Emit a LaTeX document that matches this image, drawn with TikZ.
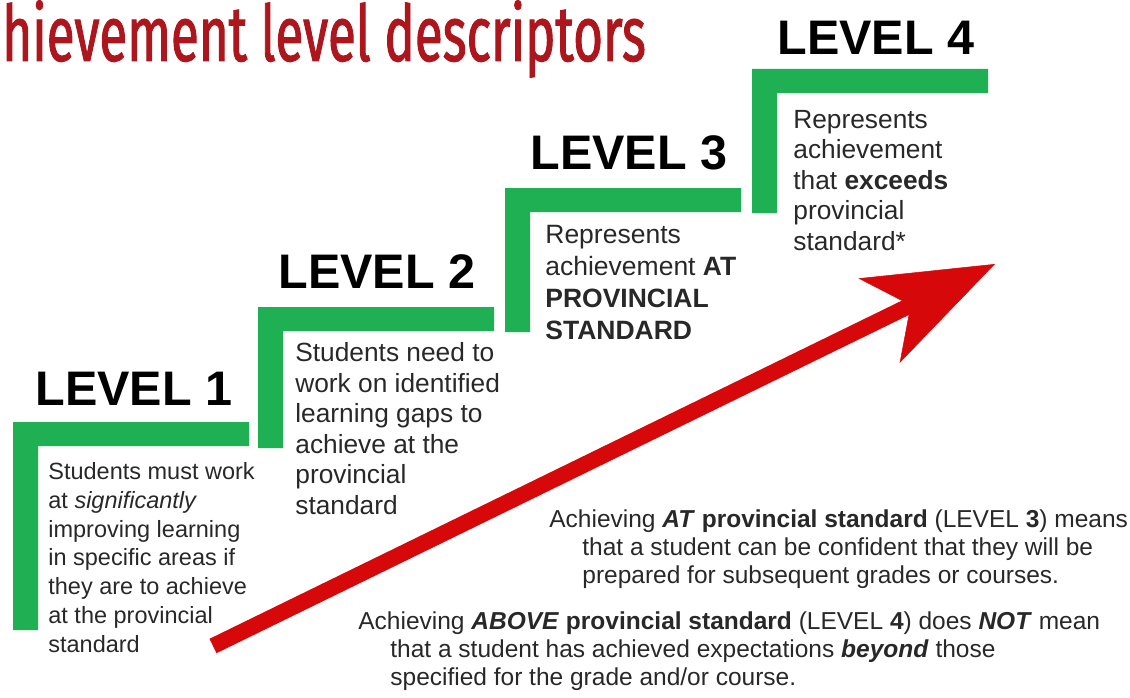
\documentclass[tikz,border=0pt]{standalone}
\usepackage{fontspec}
\setmainfont{Liberation Sans}
\newfontfamily\titlefont[FakeStretch=0.655,FakeBold=1.2]{Fira Sans}
\usetikzlibrary{arrows.meta}
\definecolor{stepgreen}{RGB}{30,176,82}
\definecolor{arrowred}{RGB}{214,8,10}
\definecolor{titlered}{RGB}{172,22,28}
\definecolor{bodygray}{RGB}{40,40,40}
\tikzset{every picture/.style={line width=0.75pt},
	levellabel/.style={anchor=base west,inner sep=0pt,font=\fontsize{48.5}{58}\selectfont\bfseries},
	leveltext/.style={anchor=base west,inner sep=0pt,align=left,text=bodygray},
	notetext/.style={anchor=base west,inner sep=0pt,align=left,text=bodygray,font=\fontsize{24.5}{28}\selectfont}}
\begin{document}
\begin{tikzpicture}[x=1pt,y=-1pt]
				\useasboundingbox (0,0) rectangle (1130,698);
				\node[anchor=base west,inner sep=0pt,text=titlered,font=\titlefont\fontsize{78}{80}\selectfont] (title) at (2,61) {hievement level descriptors}; %タイトル
				\foreach \x/\y/\h in {13/422/208,258/307/141,505/188/144,752/69/144}
					\fill[stepgreen] (\x,\y) -- ++(236,0) -- ++(0,24) -- ++(-211,0) -- ++(0,\h-24) -- ++(-25,0) -- cycle; %階段
				\node[levellabel] (lv1) at (35,405) {LEVEL 1};
				\node[levellabel] (lv2) at (278,288) {LEVEL 2};
				\node[levellabel] (lv3) at (530,170) {LEVEL 3};
				\node[levellabel] (lv4) at (777,55) {LEVEL 4};
				% 基準は最終行のベースライン
				\node[leveltext,font=\fontsize{23.5}{28.7}\selectfont] (txt1) at (48,652) {Students must work\\at \textit{significantly}\\improving learning\\in specific areas if\\they are to achieve\\at the provincial\\standard};
				\node[leveltext,font=\fontsize{26.3}{30.5}\selectfont] (txt2) at (295,514) {Students need to\\work on identified\\learning gaps to\\achieve at the\\provincial\\standard};
				\node[leveltext,font=\fontsize{26.5}{32}\selectfont] (txt3) at (545,339) {Represents\\achievement \textbf{AT}\\\textbf{PROVINCIAL}\\\textbf{STANDARD}};
				\node[leveltext,font=\fontsize{26.3}{30.5}\selectfont] (txt4) at (793,250) {Represents\\achievement\\that \textbf{exceeds}\\provincial\\standard*};
				\coordinate (arrowtail) at (213,646);
				\coordinate (arrowtip) at (995,264);
				\draw[arrowred,line width=16pt,-{Stealth[length=129pt,width=94pt,inset=35pt,line width=0.5pt]}] (arrowtail) -- (arrowtip); %矢印
				\node[notetext] (note3) at (549,583) {Achieving \textbf{\textit{AT} provincial standard} (LEVEL \textbf{3}) means\\\hspace*{33pt}that a student can be confident that they will be\\\hspace*{33pt}prepared for subsequent grades or courses.};
				\node[notetext] (note4) at (358,685) {Achieving \textbf{\textit{ABOVE} provincial standard} (LEVEL \textbf{4}) does \textbf{\textit{NOT}} mean\\\hspace*{32pt}that a student has achieved expectations \textbf{\textit{beyond}} those\\\hspace*{32pt}specified for the grade and/or course.};
			\end{tikzpicture}
\end{document}
